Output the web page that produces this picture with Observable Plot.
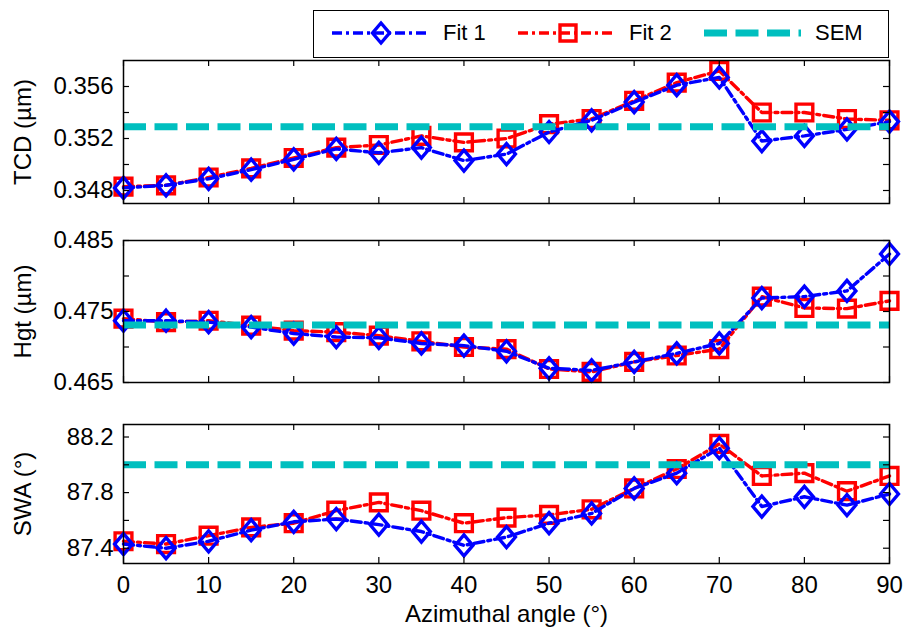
<!DOCTYPE html>
<html><head><meta charset="utf-8">
<script src="https://cdn.jsdelivr.net/npm/d3@7"></script>
<script src="https://cdn.jsdelivr.net/npm/@observablehq/plot@0.6"></script>
<style>
body{margin:0;background:#fff;font-family:"Liberation Sans",Arial,sans-serif;}
#chart{position:relative;width:903px;height:629px;overflow:hidden;background:#fff;}
#chart svg.panel{position:absolute;left:0;}
#legend{position:absolute;left:313px;top:10px;width:574px;height:46px;border:1.5px solid #000;background:#fff;}
#legend .item{position:absolute;top:0;height:46px;}
#legend .lbl{position:absolute;top:9px;font-size:22px;color:#000;white-space:nowrap;}
</style></head><body><div id="chart"><div id="legend"></div></div>
<script>
// ---- data ----
const angles = [0,5,10,15,20,25,30,35,40,45,50,55,60,65,70,75,80,85,90];
const xTicks = [0,10,20,30,40,50,60,70,80,90];

const tcdFit1 = [0.3482,0.3484,0.3489,0.3496,0.3504,0.3512,0.3509,0.3513,0.3503,0.3508,0.3525,0.3534,0.3548,0.3561,0.3567,0.3518,0.3522,0.3527,0.3533];
const tcdFit2 = [0.3483,0.3484,0.3490,0.3497,0.3505,0.3513,0.3515,0.3522,0.3517,0.3520,0.3531,0.3535,0.3549,0.3563,0.3572,0.3540,0.3540,0.3535,0.3534];
const tcdSEM = 0.3529;
const tcdDomain = [0.347, 0.358];
const tcdLabelTicks = [0.348, 0.352, 0.356];
const tcdAllTicks = [0.348, 0.350, 0.352, 0.354, 0.356];

const hgtFit1 = [0.4737,0.4737,0.4735,0.4728,0.4719,0.4714,0.4713,0.4705,0.4702,0.4694,0.4670,0.4667,0.4679,0.4691,0.4705,0.4769,0.4771,0.4779,0.4831];
const hgtFit2 = [0.4740,0.4735,0.4737,0.4730,0.4723,0.4721,0.4716,0.4708,0.4700,0.4697,0.4669,0.4665,0.4679,0.4688,0.4697,0.4771,0.4755,0.4754,0.4765];
const hgtSEM = 0.4731;
const hgtDomain = [0.465, 0.485];
const hgtLabelTicks = [0.465, 0.475, 0.485];
const hgtAllTicks = [0.465, 0.470, 0.475, 0.480, 0.485];

const swaFit1 = [87.43,87.40,87.45,87.53,87.59,87.61,87.57,87.52,87.42,87.48,87.58,87.65,87.83,87.94,88.12,87.70,87.77,87.71,87.79];
const swaFit2 = [87.45,87.43,87.49,87.55,87.58,87.67,87.73,87.67,87.58,87.62,87.64,87.68,87.83,87.97,88.15,87.92,87.94,87.81,87.92];
const swaSEM = 88.0;
const swaDomain = [87.29, 88.29];
const swaLabelTicks = [87.4, 87.8, 88.2];
const swaAllTicks = [87.4, 87.6, 87.8, 88.0, 88.2];

const seriesNames = ["Fit 1", "Fit 2", "SEM"];
const colors = {"Fit 1": "#0000ff", "Fit 2": "#ff0000", "SEM": "#00bfbf"};

// ---- styles ----
const DASHDOT = "10,4,3,4";
const SEMDASH = "23,8.5";
const LW = 3.4;
const FS = 24;
const FONT = "Liberation Sans, Arial, sans-serif";
const diamondSym = {draw(ctx, size){ const r = Math.sqrt(size/Math.PI); ctx.moveTo(0,-r); ctx.lineTo(r*0.85,0); ctx.lineTo(0,r); ctx.lineTo(-r*0.85,0); ctx.closePath(); }};
const squareSym = {draw(ctx, size){ const r = Math.sqrt(size/Math.PI)*0.8; ctx.rect(-r,-r,2*r,2*r); }};

const W = 903, ML = 123, MR = 14;
const frameW = W - ML - MR;

function panel(o) {
  const d1 = angles.map((a,i)=>({a, v:o.fit1[i]}));
  const d2 = angles.map((a,i)=>({a, v:o.fit2[i]}));
  const frameH = o.height - o.mt - o.mb;
  const marks = [
    Plot.line(d2, {x:"a", y:"v", stroke: colors["Fit 2"], strokeWidth: LW, strokeDasharray: DASHDOT}),
    Plot.dot(d2, {x:"a", y:"v", symbol: squareSym, r: 10.5, stroke: colors["Fit 2"], strokeWidth: LW, fill: "none"}),
    Plot.line(d1, {x:"a", y:"v", stroke: colors["Fit 1"], strokeWidth: LW, strokeDasharray: DASHDOT}),
    Plot.dot(d1, {x:"a", y:"v", symbol: diamondSym, r: 10.5, stroke: colors["Fit 1"], strokeWidth: LW, fill: "none"}),
    Plot.ruleY([o.sem], {stroke: colors["SEM"], strokeWidth: 7, strokeDasharray: SEMDASH}),
    // inner ticks, all four sides
    Plot.tickX(xTicks, {x: d=>d, stroke:"#000", strokeWidth:1.2, insetTop: frameH-6}),
    Plot.tickX(xTicks, {x: d=>d, stroke:"#000", strokeWidth:1.2, insetBottom: frameH-6}),
    Plot.tickY(o.allTicks, {y: d=>d, stroke:"#000", strokeWidth:1.2, insetRight: frameW-6}),
    Plot.tickY(o.allTicks, {y: d=>d, stroke:"#000", strokeWidth:1.2, insetLeft: frameW-6}),
    Plot.frame({stroke:"#000", strokeWidth:1.5}),
    Plot.axisY(o.labelTicks, {anchor:"left", tickSize:0, tickPadding:10, tickFormat: o.fmt, fontSize: FS,
      label: o.label, labelAnchor:"center", labelOffset: 110, labelArrow: "none"})
  ];
  if (o.showX) {
    marks.push(Plot.axisX(xTicks, {anchor:"bottom", tickSize:0, tickPadding:12, fontSize: FS,
      label: "Azimuthal angle (°)", labelAnchor:"center", labelOffset: 58, labelArrow: "none"}));
  }
  const svg = Plot.plot({
    width: W, height: o.height,
    marginLeft: ML, marginRight: MR, marginTop: o.mt, marginBottom: o.mb,
    style: {fontFamily: FONT, fontSize: FS + "px", color: "#000", background: "transparent", overflow: "visible"},
    x: {domain:[0,90], axis: null},
    y: {domain:o.domain, axis: null},
    marks
  });
  svg.classList.add("panel");
  svg.style.top = o.top + "px";
  return svg;
}

const chart = document.getElementById("chart");
chart.insertBefore(panel({fit1: tcdFit1, fit2: tcdFit2, sem: tcdSEM, domain: tcdDomain, labelTicks: tcdLabelTicks, allTicks: tcdAllTicks,
  fmt: d3.format(".3f"), label: "TCD (µm)", top: 0, height: 220, mt: 60, mb: 17}), chart.firstChild);
chart.insertBefore(panel({fit1: hgtFit1, fit2: hgtFit2, sem: hgtSEM, domain: hgtDomain, labelTicks: hgtLabelTicks, allTicks: hgtAllTicks,
  fmt: d3.format(".3f"), label: "Hgt (µm)", top: 220, height: 180, mt: 20, mb: 18}), chart.firstChild);
chart.insertBefore(panel({fit1: swaFit1, fit2: swaFit2, sem: swaSEM, domain: swaDomain, labelTicks: swaLabelTicks, allTicks: swaAllTicks,
  fmt: d3.format(".1f"), label: "SWA (°)", top: 400, height: 229, mt: 24, mb: 66, showX: true}), chart.firstChild);

// ---- legend ----
const legend = document.getElementById("legend");
const legendX = [18, 204, 390];   // swatch left offsets inside box
seriesNames.forEach((name, i) => {
  const item = document.createElement("div");
  item.className = "item";
  item.style.left = legendX[i] + "px";
  const isSEM = name === "SEM";
  const sw = d3.create("svg").attr("width", 98).attr("height", 46).style("position","absolute").style("left","0").style("top","0");
  sw.append("line").attr("x1", 0).attr("x2", 97).attr("y1", 22).attr("y2", 22)
    .attr("stroke", colors[name]).attr("stroke-width", isSEM ? 7 : LW).attr("stroke-dasharray", isSEM ? SEMDASH : DASHDOT);
  if (name === "Fit 1") sw.append("path").attr("d", "M49,12L57.5,22L49,32L40.5,22Z").attr("fill","none").attr("stroke", colors[name]).attr("stroke-width",LW);
  if (name === "Fit 2") sw.append("path").attr("d", "M42,14H58V30H42Z").attr("fill","none").attr("stroke", colors[name]).attr("stroke-width",LW);
  item.appendChild(sw.node());
  const lbl = document.createElement("span");
  lbl.className = "lbl";
  lbl.style.left = "111px";
  lbl.textContent = name;
  item.appendChild(lbl);
  legend.appendChild(item);
});
</script></body></html>
